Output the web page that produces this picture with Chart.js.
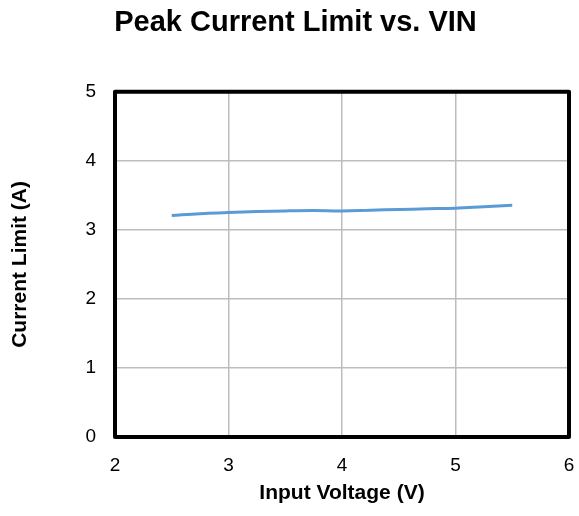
<!DOCTYPE html>
<html><head><meta charset="utf-8">
<script src="https://cdn.jsdelivr.net/npm/chart.js@4"></script>
<style>html,body{margin:0;padding:0;background:#fff}#wrap{width:579px;height:516px}</style>
</head><body><div id="wrap"><canvas id="c" width="579" height="516"></canvas></div>
<script>
const vin = [2.5, 2.75, 3.0, 3.25, 3.5, 3.75, 4.0, 4.25, 4.5, 4.75, 5.0, 5.25, 5.5];
const currentLimit = [3.21, 3.235, 3.25, 3.265, 3.275, 3.28, 3.275, 3.285, 3.295, 3.305, 3.315, 3.335, 3.355];
const xTicks = [2, 3, 4, 5, 6];
const yTicks = [0, 1, 2, 3, 4, 5];
const FONT = "'Liberation Sans', Arial, sans-serif";

const frame = {
  id: 'frame',
  afterDatasetsDraw(chart) {
    const a = chart.chartArea, ctx = chart.ctx;
    ctx.save();
    ctx.strokeStyle = '#000';
    ctx.lineWidth = 4;
    ctx.lineJoin = 'round';
    ctx.strokeRect(a.left, a.top, a.right - a.left, a.bottom - a.top);
    ctx.restore();
  }
};

new Chart(document.getElementById('c'), {
  type: 'line',
  data: {
    datasets: [{
      data: vin.map((v, i) => ({x: v, y: currentLimit[i]})),
      borderColor: '#5B9BD5',
      borderWidth: 3,
      pointRadius: 0,
      tension: 0.4,
      fill: false
    }]
  },
  options: {
    responsive: false,
    animation: false,
    layout: {padding: {left: 12, right: 0, top: 0, bottom: 0}},
    plugins: {
      legend: {display: false},
      tooltip: {enabled: false},
      title: {
        display: true,
        text: 'Peak Current Limit vs. VIN',
        color: '#000',
        font: {family: FONT, size: 29, weight: 'bold', lineHeight: 1.2},
        padding: {top: 6, bottom: 51}
      }
    },
    scales: {
      x: {
        type: 'linear',
        min: 2, max: 6,
        afterBuildTicks: s => { s.ticks = xTicks.map(v => ({value: v})); },
        afterFit: s => { s.height = 79; s.paddingRight = 10; s.paddingLeft = 0; },
        grid: {color: '#BDBDBD', lineWidth: 1.5, drawTicks: false},
        border: {display: false},
        ticks: {color: '#000', padding: 17, maxRotation: 0, font: {family: FONT, size: 19}},
        title: {display: true, text: 'Input Voltage (V)', color: '#000',
                font: {family: FONT, size: 21, weight: 'bold'}, padding: {top: 0, bottom: 10}}
      },
      y: {
        type: 'linear',
        min: 0, max: 5,
        afterBuildTicks: s => { s.ticks = yTicks.map(v => ({value: v})); },
        afterFit: s => { s.width = 103; },
        grid: {color: '#BDBDBD', lineWidth: 1.5, drawTicks: false},
        border: {display: false},
        ticks: {color: '#000', padding: 19, font: {family: FONT, size: 19}},
        title: {display: true, text: 'Current Limit (A)', color: '#000',
                font: {family: FONT, size: 21, weight: 'bold'}, padding: {top: -4, bottom: 0}}
      }
    }
  },
  plugins: [frame]
});
</script></body></html>
